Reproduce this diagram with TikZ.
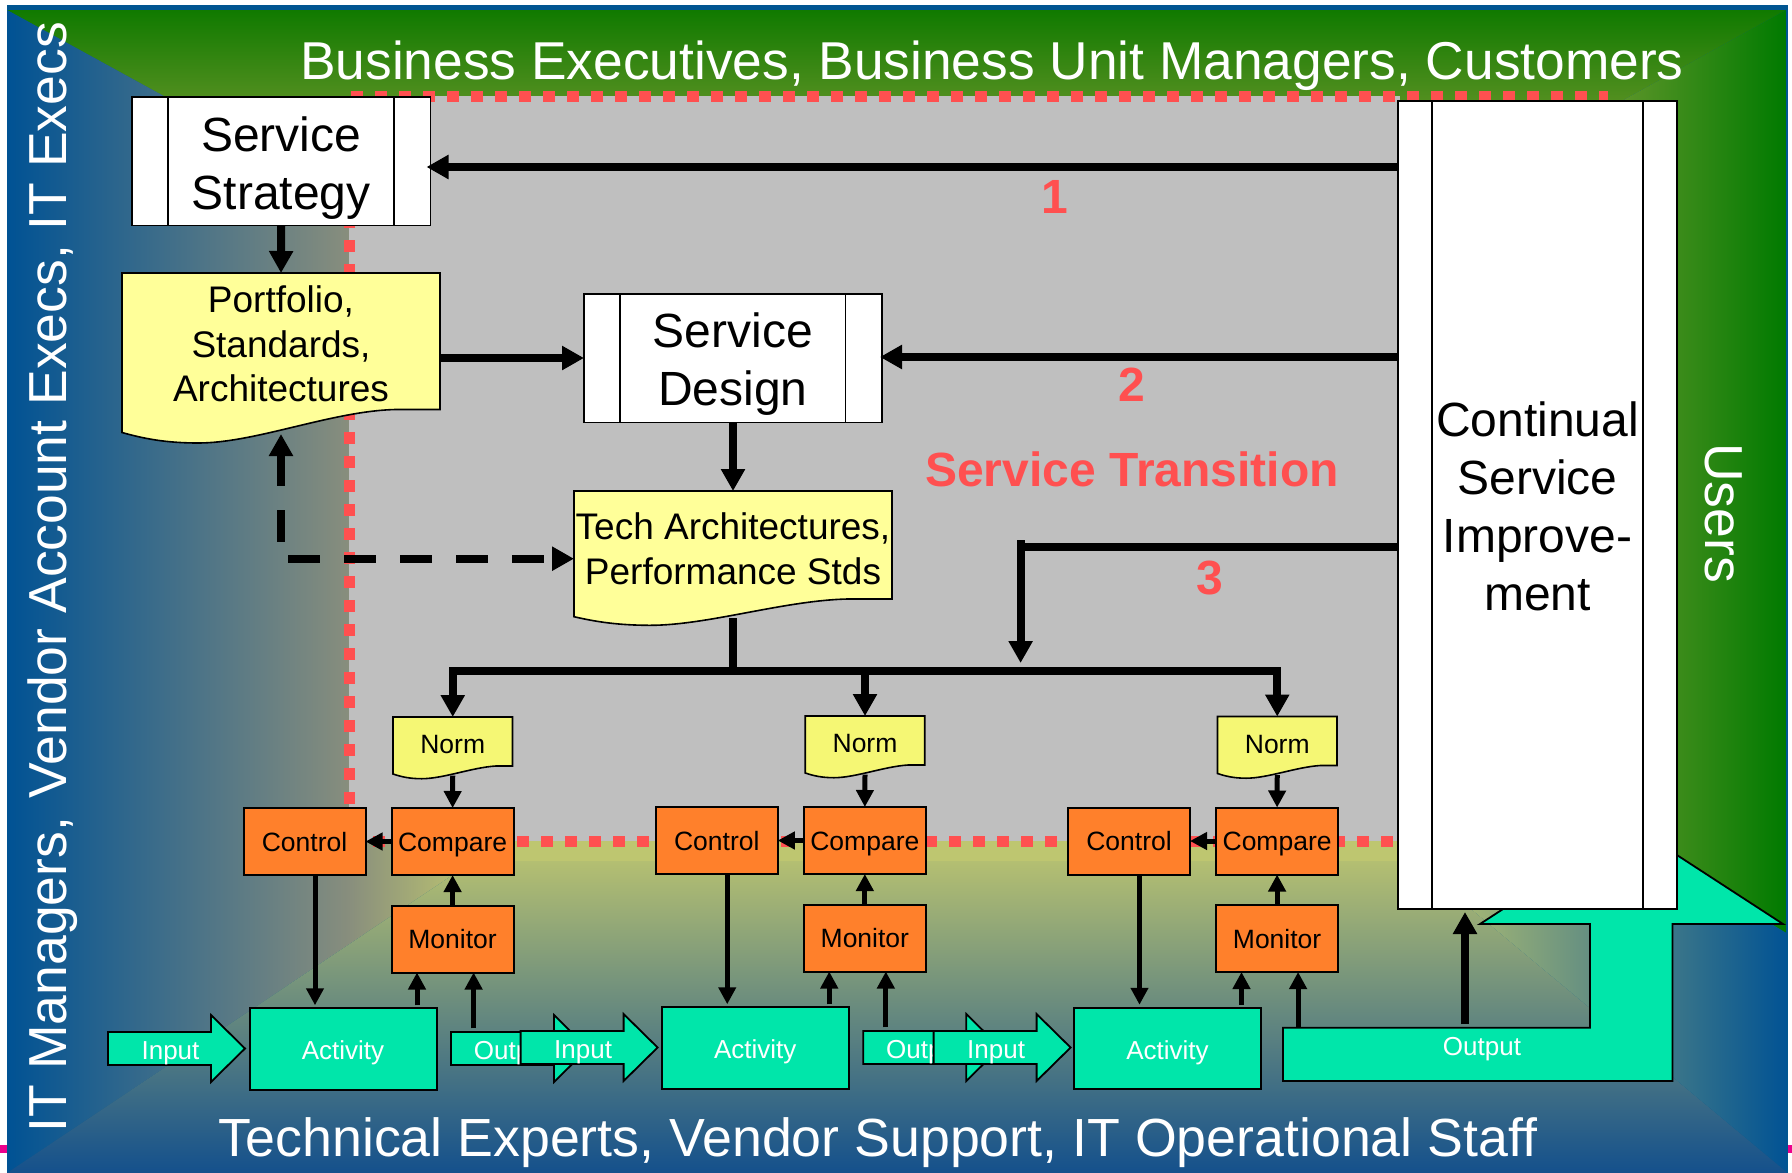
\documentclass[tikz,border=0pt]{standalone}
\usepackage{fontspec}
\setmainfont{Liberation Sans}
\usetikzlibrary{arrows.meta,calc}
\definecolor{tealc}{RGB}{0,230,170}
\definecolor{orangec}{RGB}{255,128,43}
\definecolor{yellowa}{RGB}{255,255,153}
\definecolor{yellowb}{RGB}{245,247,116}
\definecolor{greyc}{RGB}{191,191,191}
\definecolor{redc}{RGB}{255,80,80}
\definecolor{bandc}{RGB}{0,85,145}
\definecolor{bluea}{RGB}{0,82,148}
\definecolor{blueb}{RGB}{82,98,140}
\definecolor{bluec}{RGB}{136,142,125}
\definecolor{olive}{RGB}{190,198,112}
\definecolor{blued}{RGB}{20,80,140}
\definecolor{bluee}{RGB}{104,114,136}
\definecolor{greena}{RGB}{16,122,0}
\definecolor{greenb}{RGB}{206,182,91}
\definecolor{greenc}{RGB}{0,122,0}
\newcommand\docfont{\fontsize{37}{44.6}\selectfont}
\tikzset{
  procbox/.style={draw=black,line width=1.6pt,fill=white,inner sep=0pt,outer sep=0pt,align=center,font=\fontsize{48}{58}\selectfont},
  orangebox/.style={draw=black,line width=2pt,fill=orangec,inner sep=0pt,outer sep=0pt,minimum width=122pt,minimum height=67pt,text height=19pt,text depth=0pt,font=\fontsize{26.5}{30}\selectfont},
  tealbox/.style={draw=black,line width=2pt,fill=tealc,inner sep=0pt,outer sep=0pt,text=white,font=\fontsize{26}{30}\selectfont},
  tealshape/.style={draw=black,line width=1.8pt,fill=tealc,line join=miter},
  teallabel/.style={text=white,inner sep=0pt,text height=19pt,text depth=0pt,font=\fontsize{26}{30}\selectfont},
  docshape/.style={draw=black,line width=1.6pt},
  doclabel/.style={inner sep=0pt,align=center,font=\docfont},
  bigarrow/.style={line width=8pt,-{Triangle[length=22pt,width=23pt]}},
  bigline/.style={line width=8pt},
  midarrow/.style={line width=5pt,-{Triangle[length=17pt,width=17pt]}},
  dashline/.style={line width=8pt,dash pattern=on 32pt off 24pt,-{Triangle[length=22pt,width=23pt]}},
  dotline/.style={draw=redc,line width=11pt,dash pattern=on 12pt off 12pt},
  topwhite/.style={text=white,inner sep=0pt,font=\fontsize{53.3}{60}\selectfont},
  bigwhite/.style={text=white,inner sep=0pt,font=\fontsize{53.7}{60}\selectfont},
  sidewhite/.style={text=white,inner sep=0pt,font=\fontsize{53.5}{60}\selectfont},
  rednum/.style={text=redc,inner sep=0pt,font=\fontsize{48}{56}\selectfont\bfseries}
}
% name x1 y1 x2 y2 x3 x4 text-y-centre text
\newcommand\procnode[9]{%
  \pgfmathsetmacro\pcx{(#2+#4)/2}\pgfmathsetmacro\pcy{(#3+#5)/2}%
  \pgfmathsetmacro\pw{#4-#2}\pgfmathsetmacro\ph{#5-#3}%
  \node[procbox,minimum width=\pw pt,minimum height=\ph pt] (#1) at (\pcx,\pcy) {};
  \draw[black,line width=1.6pt] (#6,#3) -- (#6,#5) (#7,#3) -- (#7,#5);
  \node[procbox,draw=none,fill=none] (#1T) at (\pcx,#8) {#9};
}
% name x1 y1 x2 yR yL yT text-y text
\newcommand\docnode[9]{%
  \pgfmathsetmacro\dcx{(#2+#4)/2}\pgfmathsetmacro\dw{#4-#2}%
  \pgfmathsetmacro\dbot{#6+1.5}\pgfmathsetmacro\dh{\dbot-#3}\pgfmathsetmacro\dcy{(#3+\dbot)/2}%
  \pgfmathsetmacro\xa{#2+.86*\dw}\pgfmathsetmacro\xb{#2+.66*\dw}\pgfmathsetmacro\xc{#2+.42*\dw}%
  \pgfmathsetmacro\xd{#2+.24*\dw}\pgfmathsetmacro\xe{#2+.14*\dw}\pgfmathsetmacro\xf{#2+.07*\dw}%
  \pgfmathsetmacro\yb{#5+1.5}\pgfmathsetmacro\yf{#6+.6*(#7-#6)}%
  \draw[docshape,fill=docfill] (#2,#3) -- (#4,#3) -- (#4,#5) -- (\xa,#5)
     .. controls (\xb,\yb) and (\xc,#7) .. (\xd,#7)
     .. controls (\xe,#7) and (\xf,\yf) .. (#2,#6) -- cycle;
  \node[minimum width=\dw pt,minimum height=\dh pt,inner sep=0pt,outer sep=0pt] (#1) at (\dcx,\dcy) {};
  \node[doclabel] (#1T) at (\dcx,#8) {#9};
}
\begin{document}
\begin{tikzpicture}[x=1pt,y=-1pt]
\useasboundingbox (0,0) rectangle (1792,1173);
\fill[white] (0,0) rectangle (1792,1173);
% slide background
\fill[bandc] (7,5) rectangle (1788,1173);
\begin{scope}
  \clip (7,10) -- (1786,10) -- (1412,217) -- (475,267) -- cycle;
  \shade[top color=greena,bottom color=greenb] (0,10) rectangle (1792,270);
\end{scope}
\begin{scope}
  \clip (1786,10) -- (1786,933) -- (1412,708) -- (1412,217) -- cycle;
  \shade[left color=greenb,right color=greenc] (1412,0) rectangle (1786,940);
\end{scope}
\begin{scope}
  \clip (7,10) -- (475,267) -- (475,860) -- (7,1173) -- cycle;
  \shade[left color=bluea,middle color=blueb,right color=bluec] (7,0) rectangle (349,1173);
  \shade[left color=bluec,right color=olive] (348.5,0) rectangle (475.5,1173);
\end{scope}
\begin{scope}
  \clip (7,1173) -- (475,860) -- (1412,860) -- (1788,1173) -- cycle;
  \shade[top color=olive,middle color=bluee,bottom color=blued] (0,841) rectangle (1792,1173);
\end{scope}
\begin{scope}
  \clip (1412,860) -- (1788,1173) -- (1788,934) -- (1412,708) -- cycle;
  \shade[left color=olive,middle color=bluee,right color=bluea] (1412,700) rectangle (1788,1173);
\end{scope}
\fill[olive] (475,841) rectangle (1412,861);
\fill[bandc] (1786,10) rectangle (1788,1173);
% magenta ticks
\fill[magenta] (0,1145) rectangle (7,1153);
\fill[magenta] (1788,1145) rectangle (1792,1153);
% grey centre and dotted border
\fill[greyc] (349,96) rectangle (1400,841);
\coordinate (dotA) at (351,96);
\coordinate (dotB) at (1608,96);
\coordinate (dotC) at (349,96);
\coordinate (dotD) at (349,806);
\coordinate (dotE) at (349,841);
\coordinate (dotF) at (1400,841);
\draw[dotline] (dotA) -- (dotB);
\draw[dotline] (dotC) -- (dotD);
\draw[dotline] (dotE) -- (dotF);
% banner texts
\node[topwhite] (topT) at (992,66) {Business Executives, Business Unit Managers, Customers};
\node[bigwhite] (botT) at (878,1143) {Technical Experts, Vendor Support, IT Operational Staff};
\node[sidewhite,rotate=90] (leftT) at (52.5,577) {IT Managers,\hspace{4pt} Vendor Account Execs, IT Execs};
\node[sidewhite,rotate=-90] (usersT) at (1724,513) {Users};
% big output arrow (below CSI)
\draw[tealshape] (1283,1027.7) -- (1590,1027.7) -- (1590,924) -- (1480,924) -- (1631.5,825.5) -- (1783,924) -- (1672.5,924) -- (1672.5,1081) -- (1283,1081) -- cycle;
\node[teallabel] (out3) at (1482,1046) {Output};
% process boxes
\procnode{strat}{132}{97}{430.5}{225.5}{168}{394}{168}{Service\\Strategy}
\procnode{design}{584}{294}{882}{422.5}{620}{845.5}{364.5}{Service\\Design}
\procnode{csi}{1398}{101}{1677}{909}{1432}{1643}{506}{Continual\\Service\\Improve-\\ment}
% documents
\colorlet{docfill}{yellowa}
\docnode{port}{122}{273}{440}{409.5}{432.5}{443}{344}{Portfolio,\\Standards,\\Architectures}
\docnode{tech}{574}{491}{892}{599}{616.7}{625.3}{549}{Tech Architectures,\\Performance Stds}
% upper connectors
\coordinate (y1a) at (0,167);
\coordinate (y2a) at (0,357);
\coordinate (y2b) at (0,358);
\coordinate (y3a) at (0,547);
\coordinate (x3a) at (1020.6,540);
\coordinate (x3b) at (1020.6,663);
\coordinate (busy) at (0,671);
\draw[bigarrow] (csi.west |- y1a) -- ($(strat.east |- y1a)+(-4,0)$);
\draw[bigarrow] (csi.west |- y2a) -- ($(design.east |- y2a)+(-2,0)$);
\draw[bigline] (csi.west |- y3a) -- (x3a |- y3a);
\draw[bigarrow] (x3a) -- (x3b);
\draw[bigarrow] (strat.south) -- (port.north);
\draw[bigarrow] (port.east |- y2b) -- (design.west |- y2b);
\draw[bigarrow] (design.south) -- (tech.north);
\coordinate (dashA) at (281,541.5);
\coordinate (dashB) at (288,558.7);
\draw[dashline] (dashA) -- (port.south);
\draw[dashline] (dashB) -- (tech.west |- dashB);
\draw[bigline] (tech.south) -- (tech.south |- busy);
% three control columns
\renewcommand\docfont{\fontsize{26.5}{30}\selectfont}
\foreach \i/\dx/\dy in {1/0/0,2/412.25/1,3/824.5/0.5}{
\begin{scope}[shift={(\dx pt,\dy pt)}]
  \colorlet{docfill}{yellowb}
  \docnode{norm\i}{393}{717}{512.5}{766}{774}{778.7}{745}{Norm}
  \node[orangebox] (cmp\i) at (452.6,841.5) {Compare};
  \node[orangebox] (ctl\i) at (304.5,841.5) {Control};
  \node[orangebox] (mon\i) at (452.6,939) {Monitor};
  \node[tealbox,minimum width=187pt,minimum height=81.5pt] (act\i) at (343.3,1049) {};
  \node[teallabel] (actT\i) at (343,1050) {Activity};
  \coordinate (ctlx\i) at (315,0);
  \coordinate (actx\i) at (417,0);
  \coordinate (outx\i) at (473.6,0);
\end{scope}
}
% outputs 1, 2 below the following inputs
\foreach \i/\dx/\dy in {1/0/0,2/412.25/1}{
\begin{scope}[shift={(\dx pt,\dy pt)}]
  \draw[tealshape] (451,1032) -- (554,1032) -- (554,1015) -- (588,1048.5) -- (554,1082) -- (554,1065) -- (451,1065) -- cycle;
  \node[teallabel] (out\i) at (513,1050) {Output};
\end{scope}
}
% inputs
\foreach \i/\dx/\dy in {1/0/0,2/412.6/1,3/825.6/1}{
\begin{scope}[shift={(\dx pt,\dy pt)}]
  \draw[tealshape] (108,1032) -- (211,1032) -- (211,1015) -- (245,1048.5) -- (211,1082) -- (211,1065) -- (108,1065) -- cycle;
  \node[teallabel] (inp\i) at (170.5,1050) {Input};
\end{scope}
}
% column connectors
\foreach \i in {1,2,3}{
  \draw[bigarrow] (tech.south |- busy) -| (norm\i.north);
  \draw[midarrow] (norm\i.south) -- (cmp\i.north);
  \draw[midarrow] (mon\i.north) -- (cmp\i.south);
  \draw[midarrow] (cmp\i.west) -- (ctl\i.east);
  \draw[midarrow] (ctl\i.south -| ctlx\i) -- ($(act\i.north -| ctlx\i)+(0,-3)$);
  \draw[midarrow] ($(act\i.north -| actx\i)+(0,-3)$) -- (mon\i.south -| actx\i);
  \draw[midarrow] ($(act\i.north -| outx\i)+(0,20)$) -- (mon\i.south -| outx\i);
}
% output feedback
\coordinate (fbk) at (1465,1024);
\draw[bigarrow] (fbk) -- ($(csi.south -| fbk)+(0,3)$);
% red labels
\node[rednum] (lab1) at (1055,197) {1};
\node[rednum] (lab2) at (1132,384.5) {2};
\node[rednum] (lab3) at (1210,578) {3};
\node[rednum] (labST) at (1132,469) {Service Transition};
\end{tikzpicture}
\end{document}
